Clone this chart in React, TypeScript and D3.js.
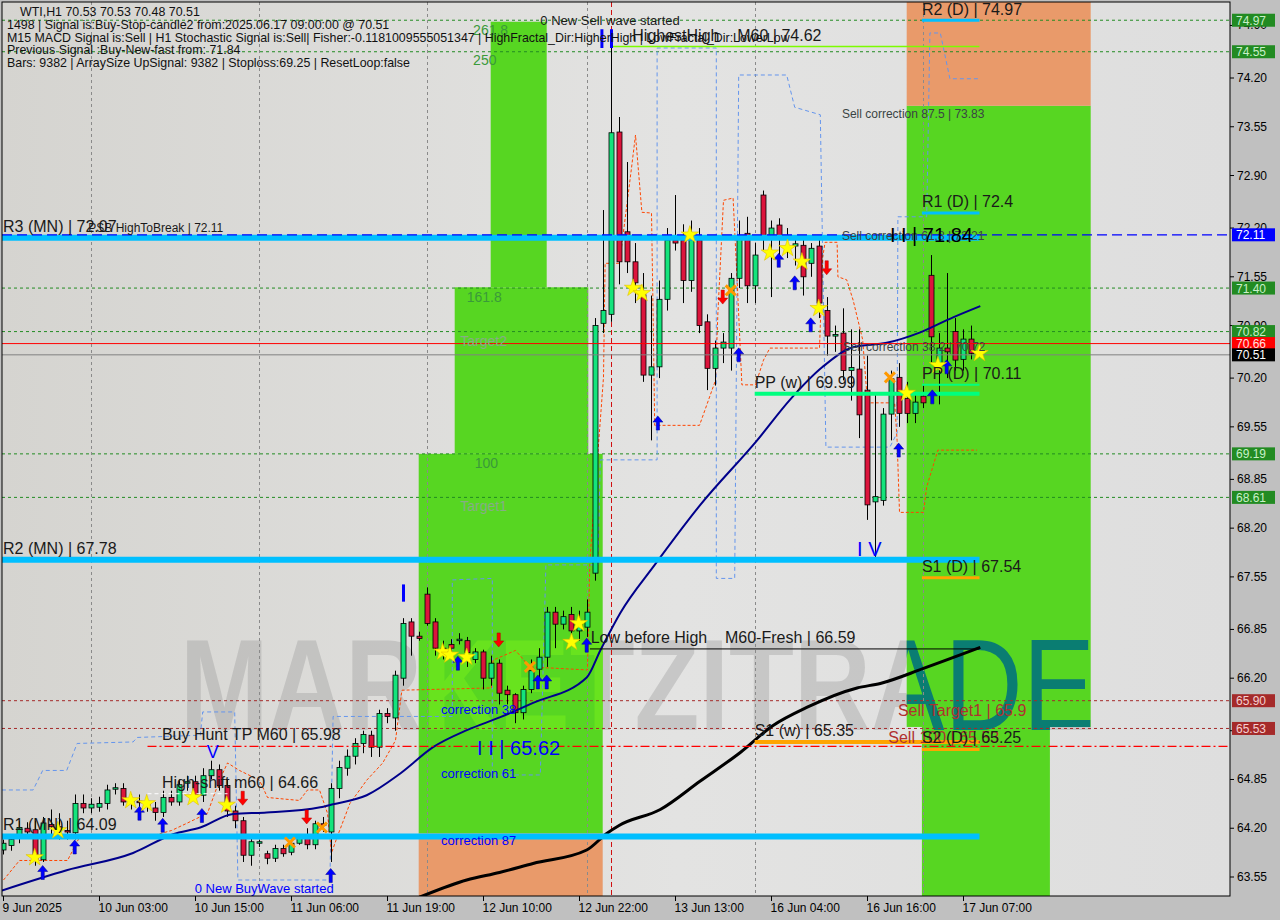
import React from "react";
import * as d3 from "d3";

// ---- price data (WTI H1) ----
const opens = [63.91,63.97,64.11,64.2,64.18,63.78,64.25,64.22,64.17,64.14,64.53,64.47,64.48,64.53,64.72,64.73,64.55,64.56,64.54,64.47,64.41,64.61,64.55,64.8,64.82,64.64,64.9,64.98,64.77,64.43,64.3,63.84,64.0,63.86,63.8,63.93,63.88,64.0,64.07,63.98,64.26,64.15,64.73,65.0,65.16,65.33,65.44,65.28,65.73,65.67,66.2,66.95,66.76,67.32,66.95,66.6,66.65,66.7,66.7,66.45,66.55,66.2,66.4,66.04,65.98,65.74,66.05,66.32,66.48,67.08,66.92,67.05,66.83,66.88,67.6,70.93,71.05,73.48,72.15,71.75,71.31,70.24,70.35,71.25,72.04,72.04,71.5,72.04,70.95,70.33,70.6,70.6,71.53,72.13,71.43,72.64,72.1,72.24,72.1,71.96,71.97,71.73,71.96,71.1,70.76,70.8,70.3,70.32,70.04,68.55,68.57,69.72,70.21,69.93,69.73,69.96,71.57,70.37,70.6,70.82,70.45,70.72,70.53];
const highs = [64.05,64.1,64.3,64.28,64.3,64.35,64.45,64.4,64.3,64.65,64.65,64.6,64.62,64.78,64.8,64.8,64.65,64.65,64.6,64.55,64.7,64.7,64.85,64.9,64.9,65.0,65.1,65.05,64.85,64.5,64.35,64.1,64.05,63.9,63.98,63.98,64.05,64.1,64.2,64.3,64.35,64.8,65.1,65.25,65.4,65.5,65.5,65.78,65.8,66.3,67.0,67.0,66.82,67.41,67.0,66.7,66.72,66.8,66.75,66.6,66.58,66.5,66.45,66.1,66.0,66.1,66.45,66.6,67.15,67.15,67.1,67.15,67.1,67.25,71.0,72.44,74.62,73.68,73.08,72.0,71.6,71.3,71.5,72.2,72.64,72.25,72.3,72.2,71.05,70.7,70.8,71.6,72.3,72.35,72.0,72.7,72.3,72.33,72.2,72.1,72.05,72.0,72.1,71.28,70.9,71.13,70.85,70.85,70.5,70.0,69.8,70.3,70.4,70.15,70.0,70.1,71.84,70.8,71.6,71.0,70.85,70.9,70.53];
const lows = [63.85,63.9,64.0,64.08,63.7,63.75,64.1,64.05,64.05,64.05,64.4,64.4,64.42,64.45,64.65,64.5,64.45,64.45,64.42,64.3,64.35,64.5,64.5,64.7,64.58,64.55,64.85,64.7,64.35,64.2,63.75,63.7,63.95,63.72,63.75,63.82,63.84,63.98,63.92,63.92,64.15,63.75,64.6,64.9,65.05,65.2,65.15,65.15,65.6,65.5,66.1,66.5,66.7,66.9,66.5,66.45,66.45,66.65,66.35,66.4,66.05,66.1,65.85,65.85,65.6,65.65,66.0,66.2,66.35,66.6,66.85,66.75,66.7,66.75,67.5,70.8,70.95,71.45,71.6,71.2,70.15,69.37,70.2,71.1,71.9,71.2,71.35,70.8,70.04,70.1,70.4,70.3,71.4,71.2,71.2,71.9,71.28,71.75,71.8,71.7,71.3,71.55,71.0,70.5,70.55,70.17,69.9,69.4,68.31,67.75,68.5,69.37,69.55,69.6,69.6,69.8,70.41,69.85,70.2,70.3,70.3,70.45,70.48];
const closes = [64.0,64.05,64.21,64.15,63.78,64.27,64.22,64.2,64.15,64.53,64.47,64.52,64.53,64.71,64.74,64.55,64.58,64.54,64.5,64.41,64.61,64.55,64.78,64.82,64.64,64.9,64.98,64.77,64.43,64.3,63.84,64.02,64.02,63.8,63.93,63.86,64.0,64.07,63.98,64.26,64.24,64.73,65.01,65.16,65.33,65.45,65.28,65.73,65.69,66.24,66.93,66.76,66.73,66.93,66.6,66.55,66.6,66.72,66.54,66.55,66.2,66.4,66.0,65.98,65.74,66.05,66.3,66.48,67.08,66.92,67.02,66.83,66.95,67.08,70.9,71.1,73.47,71.75,71.75,71.47,70.24,70.35,71.25,72.04,72.0,71.5,72.04,70.9,70.33,70.6,70.68,71.53,72.1,71.43,71.84,72.1,72.2,72.1,72.05,71.99,71.55,71.93,71.2,70.76,70.78,70.3,70.34,69.71,68.51,68.62,69.72,70.19,69.73,69.73,69.88,69.87,70.75,70.6,70.55,70.44,70.72,70.53,70.51];

// time axis
const timeTickBars = [0, 12, 24, 36, 48, 60, 72, 84, 96, 108, 120];
const timeTickLabels = ["9 Jun 2025", "10 Jun 03:00", "10 Jun 15:00", "11 Jun 06:00", "11 Jun 19:00", "12 Jun 10:00", "12 Jun 22:00", "13 Jun 13:00", "16 Jun 04:00", "16 Jun 16:00", "17 Jun 07:00"];
const daySeparatorBars = [11, 32, 53, 73, 94, 115];
const priceTicks = ["74.90", "74.20", "73.55", "72.90", "72.20", "71.55", "70.90", "70.20", "69.55", "68.85", "68.20", "67.55", "66.85", "66.20", "65.50", "64.85", "64.20", "63.55"];

// horizontal levels
const greenLevels = [74.97, 74.55, 71.40, 70.82, 69.19, 68.61];
const brownLevels = [65.90, 65.53];
const monthlyPivots = [72.07, 67.78, 64.09];
const psbHigh = 72.11;
const askLine = 70.66;
const bidLine = 70.51;
const buyHuntLine = 65.29;

// [bar0, bar1, priceLow, priceHigh, kind]
const zones: [number, number, number, number, string][] = [
  [51.9, 74.9, 64.13, 69.19, "green"],
  [51.9, 74.9, 63.0, 64.13, "orange"],
  [56.4, 73.1, 69.19, 71.41, "green"],
  [60.9, 67.9, 71.41, 74.95, "green"],
  [112.9, 135.9, 65.55, 73.83, "green"],
  [112.9, 135.9, 73.83, 75.5, "orange"],
  [114.8, 130.8, 63.0, 65.55, "green"],
];

// short pivot segments: [bar0, bar1, price, color, width]
const pivotSegs: [number, number, number, string, number][] = [
  [114.8, 122, 74.97, "#00bfff", 3],
  [114.8, 122, 72.40, "#00bfff", 3],
  [114.8, 122, 70.11, "#00ff7f", 2],
  [114.8, 122, 67.54, "#ffa500", 3],
  [114.8, 122, 65.25, "#ffa500", 3],
  [93.9, 122, 69.99, "#00ff7f", 4],
  [93.9, 122, 65.35, "#ffa500", 4],
  [75.9, 122, 74.62, "#7cfc00", 1.5],
  [73.3, 122, 66.59, "#000000", 1],
];

// indicator readings [bar, price]
const upperBand = [[-0.2,64.71],[3.7,64.71],[4.9,64.97],[7.9,64.97],[9.2,65.33],[16.2,65.35],[16.7,65.41],[24.6,65.44],[24.9,65.75],[28.9,65.75],[29.3,63.51],[40.8,63.51],[41.2,65.69],[56.1,65.69],[56.1,67.51],[61.1,67.53],[61.1,64.91],[67.1,64.91],[67.8,67.71],[74.3,67.71],[74.6,69.11],[81.7,69.11],[81.7,74.6],[89.1,74.6],[89.1,67.53],[91.4,67.53],[91.9,74.24],[97.9,74.24],[98.9,73.81],[102.1,73.71],[102.8,69.28],[110.8,69.28],[111.7,69.47],[111.8,72.35],[115.4,72.35],[115.8,74.8],[117.1,74.8],[118.3,74.19],[121.8,74.19]];
const lowerBand = [[0,63.51],[2,63.77],[8,63.77],[9.5,64.08],[18,64.08],[21,64.17],[23,64.27],[25.5,64.4],[27,64.84],[28,65.07],[29.5,64.97],[32,64.84],[33,64.61],[37,64.57],[38,64.71],[39.5,64.71],[40.5,64.4],[41,63.87],[41.7,64.08],[43.3,64.53],[45.4,64.84],[47.4,65.07],[49,65.37],[49.8,66.04],[61,66.07],[61.2,66.44],[64,66.57],[65.8,66.35],[73,66.31],[73.3,67.77],[75,70.21],[75.2,71.73],[77,71.73],[78.5,73.0],[79,73.44],[79.8,72.41],[81,72.4],[81.2,71.07],[81.4,69.57],[87,69.57],[89,70.17],[89.3,71.07],[90,72.57],[91.2,72.6],[91.7,71.51],[92.3,70.11],[94,70.11],[95,70.44],[95.8,70.6],[102,70.6],[102.4,71.81],[102.7,72.01],[104.2,72.01],[104.3,71.55],[105.4,71.51],[106.2,71.24],[107.4,70.71],[108,69.87],[111.4,69.87],[111.7,69.37],[112,68.41],[115,68.41],[115.4,68.75],[116.8,69.24],[121.7,69.24]];
const fastMA = [[-0.2,63.37],[7.9,63.64],[16.2,63.87],[21.2,64.12],[24.6,64.21],[28.7,64.39],[32.9,64.41],[39.6,64.48],[41.2,64.52],[45.4,64.64],[49.6,64.93],[53.7,65.28],[58,65.51],[62.1,65.68],[66.2,65.87],[72.9,66.21],[74.6,66.57],[77.1,67.07],[81.4,67.71],[87.1,68.51],[94.2,69.37],[98.3,69.91],[102.4,70.35],[106.2,70.61],[110.4,70.67],[114.6,70.81],[118.7,71.01],[122.1,71.16]];
const slowMA = [[52,63.28],[57.9,63.51],[62,63.61],[66.2,63.73],[72.9,63.91],[75.4,64.13],[77,64.24],[82.1,64.45],[87.1,64.83],[92.1,65.21],[96.2,65.57],[100.4,65.81],[106.7,66.07],[109.6,66.13],[115,66.33],[122.1,66.61]];

// signal markers [bar, price]
const stars = [[3.9,63.81],[6.8,64.17],[15.9,64.57],[17.9,64.53],[23.7,64.61],[27.9,64.51],[54.9,66.55],[55.8,66.51],[57.9,66.48],[71,66.68],[71.9,66.93],[78.7,71.4],[79.8,71.33],[85.8,72.11],[95.8,71.87],[98,71.93],[99.8,71.75],[101.9,71.13],[112.9,70.0],[116.8,70.37],[122,70.53]];
const upArrows = [[4.9,63.61],[8.9,63.95],[17,64.4],[19.9,64.24],[24.8,64.37],[40.9,63.57],[56.8,66.4],[66.8,66.15],[67.9,66.15],[72.9,66.64],[81.8,69.6],[91.9,70.51],[96.9,71.77],[98.9,71.47],[100.9,70.91],[111.9,69.24],[116.1,69.95],[117.9,70.35]];
const downArrows = [[29.9,64.6],[37.9,64.35],[61.9,66.71],[89.9,71.28],[102.9,71.67]];
const crosses = [[35.8,64.01],[39.8,64.21],[65.8,66.35],[90.9,71.37],[110.8,70.21]];

// right-side price tags [price, background, text]
const priceTags: [number, string, string][] = [
  [74.97, "#228b22", "#c8f0c8"], [74.55, "#228b22", "#c8f0c8"], [72.11, "#0000ff", "#ffffff"],
  [71.40, "#228b22", "#c8f0c8"], [70.82, "#228b22", "#c8f0c8"], [70.66, "#ff0000", "#ffe0e0"],
  [70.51, "#000000", "#ffffff"], [69.19, "#228b22", "#c8f0c8"], [68.61, "#228b22", "#c8f0c8"],
  [65.90, "#a52a2a", "#f5d0d0"], [65.53, "#a52a2a", "#f5d0d0"],
];

const infoLines = [
  "1498 | Signal is:Buy-Stop-candle2 from:2025.06.17 09:00:00 @ 70.51",
  "M15 MACD Signal is:Sell | H1 Stochastic Signal is:Sell| Fisher:-0.1181009555051347 | HighFractal_Dir:HigherHigh | LowFractal_Dir:LowerLow",
  "Previous Signal :Buy-New-fast from: 71.84",
  "Bars: 9382 | ArraySize UpSignal: 9382 | Stoploss:69.25 | ResetLoop:false",
];

// [text, bar, price, size, color]
const labels: [string, number, number, number, string][] = [
  ["R3 (MN) | 72.07", -0.06, 72.15, 16, "#1a1a1a"],
  ["PSB HighToBreak | 72.11", 10.6, 72.15, 12, "#1a1a1a"],
  ["R2 (MN) | 67.78", -0.06, 67.86, 16, "#1a1a1a"],
  ["R1 (MN) | 64.09", -0.06, 64.18, 16, "#1a1a1a"],
  ["Buy Hunt TP M60 | 65.98", 19.8, 65.38, 16, "#1a1a1a"],
  ["High-shift m60 | 64.66", 19.8, 64.74, 16, "#1a1a1a"],
  ["V", 25.4, 65.14, 18, "#0000ff"],
  ["0 New BuyWave started", 23.9, 63.34, 13, "#0000ff"],
  ["correction 38", 54.7, 65.72, 13, "#0000ff"],
  ["correction 61", 54.7, 64.87, 13, "#0000ff"],
  ["correction 87", 54.7, 63.98, 13, "#0000ff"],
  ["I I | 65.62", 59.2, 65.18, 20, "#0000ff"],
  ["Low before High    M60-Fresh | 66.59", 73.4, 66.67, 16, "#1a1a1a"],
  ["261.8", 58.7, 74.77, 14, "#3a9a3a"],
  ["250", 58.7, 74.37, 14, "#3a9a3a"],
  ["161.8", 57.9, 71.21, 14, "#3a9a3a"],
  ["Target2", 57.1, 70.63, 14, "#86ad86"],
  ["100", 58.9, 69.0, 14, "#3a9a3a"],
  ["Target1", 57.1, 68.43, 14, "#86ad86"],
  ["0 New Sell wave started", 67.1, 74.91, 13, "#1a1a1a"],
  ["HighestHigh    M60 | 74.62", 78.6, 74.69, 16, "#1a1a1a"],
  ["Sell correction 87.5 | 73.83", 104.8, 73.67, 12, "#3a4444"],
  ["Sell correction 61.8 | 72.21", 104.8, 72.04, 12, "#3a4444"],
  ["I I | 71.84", 110.8, 72.01, 20, "#000000"],
  ["R2 (D) | 74.97", 114.8, 75.04, 16, "#1a1a1a"],
  ["R1 (D) | 72.4", 114.8, 72.48, 16, "#1a1a1a"],
  ["PP (D) | 70.11", 114.8, 70.19, 16, "#1a1a1a"],
  ["S1 (D) | 67.54", 114.8, 67.62, 16, "#1a1a1a"],
  ["PP (w) | 69.99", 93.9, 70.07, 16, "#1a1a1a"],
  ["S1 (w) | 65.35", 93.9, 65.43, 16, "#1a1a1a"],
  ["Sell correction 38.2 | 70.72", 104.9, 70.56, 12, "#3a4444"],
  ["Sell Target1 | 65.9", 111.8, 65.7, 16, "#b03030"],
  ["Sell 100 | 65.53", 110.6, 65.34, 16, "#b03030"],
  ["S2 (D) | 65.25", 114.8, 65.34, 16, "#1a1a1a"],
  ["I V", 106.7, 67.83, 20, "#0000ff"],
];

const W = 1280;
const H = 920;
const PL = 2, PR = 1230, PT = 2, PB = 896;
const FONT = "'Liberation Sans', Arial, sans-serif";

const xs = d3.scaleLinear().domain([0, 122]).range([3.5, 979.5]);
const ys = d3.scaleLinear().domain([63.55, 74.2]).range([877, 78]);

const line = d3
  .line<number[]>()
  .x((d) => xs(d[0]))
  .y((d) => ys(d[1]));
const smooth = d3
  .line<number[]>()
  .x((d) => xs(d[0]))
  .y((d) => ys(d[1]))
  .curve(d3.curveMonotoneX);

const zoneFill: Record<string, string> = { green: "#57d622", orange: "#e99a6a" };

const zoneRect = (z: [number, number, number, number, string], i: number, fill?: string) => (
  <rect
    key={i}
    x={xs(z[0])}
    y={ys(z[3])}
    width={xs(z[1]) - xs(z[0])}
    height={ys(z[2]) - ys(z[3])}
    fill={fill ?? zoneFill[z[4]]}
  />
);

const upPath = "M0,-7L5,-1L1.6,-1L1.6,7L-1.6,7L-1.6,-1L-5,-1Z";
const starPath = d3.symbol(d3.symbolStar).size(95)()!;

const App: React.FC = () => {
  const wmText = (fill: string, opacity = 1, weight = "normal") => (
    <text
      x={180}
      y={730}
      fontFamily={FONT}
      fontSize={130}
      fontWeight={weight}
      fill={fill}
      opacity={opacity}
      textLength={915}
      lengthAdjust="spacingAndGlyphs"
    >
      MARKETZITRADE
    </text>
  );

  return (
    <>
      <style>{`body{margin:0}`}</style>
      <svg width={W} height={H} style={{ display: "block" }} fontFamily={FONT}>
        <defs>
          <linearGradient id="bg" x1="0" x2="1" y1="0" y2="0">
            <stop offset="0" stopColor="#d5d4d0" />
            <stop offset="0.55" stopColor="#e3e3e2" />
            <stop offset="1" stopColor="#dedede" />
          </linearGradient>
          <clipPath id="plot">
            <rect x={PL} y={PT} width={PR - PL} height={PB - PT} />
          </clipPath>
          <clipPath id="zoneLeft">{[0, 2, 3].map((i) => zoneRect(zones[i], i))}</clipPath>
          <clipPath id="zoneRight">{[4, 6].map((i) => zoneRect(zones[i], i))}</clipPath>
          <mask id="outside">
            <rect x={0} y={0} width={W} height={H} fill="#fff" />
            {zones.map((z, i) => zoneRect(z, i, "#000"))}
          </mask>
        </defs>

        <rect x={0} y={0} width={W} height={H} fill="#c0c0c0" />
        <rect x={PL} y={PT} width={PR - PL} height={PB - PT} fill="url(#bg)" />

        <g clipPath="url(#plot)">
          {/* target zones */}
          {zones.map((z, i) => zoneRect(z, i))}

          {/* watermark */}
          <g mask="url(#outside)">{wmText("#9c9c9c", 0.38, "bold")}</g>
          <g clipPath="url(#zoneLeft)">{wmText("#68e31e", 1, "bold")}</g>
          <g clipPath="url(#zoneRight)">{wmText("#0a7d72", 1)}</g>

          {/* day separators */}
          {daySeparatorBars.map((b) => (
            <line key={b} x1={xs(b)} x2={xs(b)} y1={PT} y2={PB} stroke="#8a8a8a" strokeDasharray="3,3" />
          ))}
          <line x1={xs(76)} x2={xs(76)} y1={PT} y2={PB} stroke="#d01010" strokeDasharray="5,3" />

          {/* levels */}
          {greenLevels.map((p) => (
            <line key={p} x1={PL} x2={PR} y1={ys(p)} y2={ys(p)} stroke="#228b22" strokeDasharray="3,3" />
          ))}
          {brownLevels.map((p) => (
            <line key={p} x1={PL} x2={PR} y1={ys(p)} y2={ys(p)} stroke="#a52a2a" strokeDasharray="3,3" />
          ))}

          {/* bands */}
          <path d={line(upperBand as number[][])!} fill="none" stroke="#6495ed" strokeDasharray="4,3" />
          <path d={line(lowerBand as number[][])!} fill="none" stroke="#ff4500" strokeDasharray="3,2" />

          {/* candles */}
          {closes.map((c, i) => {
            const o = opens[i];
            const x = xs(i);
            const top = ys(Math.max(o, c));
            const h = Math.max(1, Math.abs(ys(o) - ys(c)));
            return (
              <g key={i}>
                <line x1={x} x2={x} y1={ys(highs[i])} y2={ys(lows[i])} stroke="#000" />
                <rect
                  x={x - 2.5}
                  y={top}
                  width={5}
                  height={h}
                  fill={c >= o ? "#14e47c" : "#dc143c"}
                  stroke="#000"
                  strokeWidth={0.8}
                />
              </g>
            );
          })}

          {/* moving averages */}
          <path d={smooth(slowMA as number[][])!} fill="none" stroke="#000" strokeWidth={3} />
          <path d={smooth(fastMA as number[][])!} fill="none" stroke="#00008b" strokeWidth={2} />

          {/* monthly pivots */}
          {monthlyPivots.map((p) => (
            <line key={p} x1={PL} x2={xs(122)} y1={ys(p)} y2={ys(p)} stroke="#00bfff" strokeWidth={6} />
          ))}
          <line x1={PL} x2={PR} y1={ys(psbHigh)} y2={ys(psbHigh)} stroke="#0000ff" strokeWidth={1.2} strokeDasharray="10,5" />
          {pivotSegs.map((s, i) => (
            <line key={i} x1={xs(s[0])} x2={xs(s[1])} y1={ys(s[2])} y2={ys(s[2])} stroke={s[3]} strokeWidth={s[4]} />
          ))}
          <line x1={xs(18)} x2={xs(28)} y1={ys(64.66)} y2={ys(64.66)} stroke="#ffffff" strokeDasharray="4,3" />
          <line x1={xs(18)} x2={PR} y1={ys(buyHuntLine)} y2={ys(buyHuntLine)} stroke="#ff0000" strokeWidth={1.3} strokeDasharray="9,3,2,3" />
          <line x1={PL} x2={PR} y1={ys(askLine)} y2={ys(askLine)} stroke="#ff0000" />
          <line x1={PL} x2={PR} y1={ys(bidLine)} y2={ys(bidLine)} stroke="#808080" />

          {/* wave marks */}
          {[74.8, 76].map((b) => (
            <line key={b} x1={xs(b)} x2={xs(b)} y1={ys(74.85)} y2={ys(74.6)} stroke="#0000ff" strokeWidth={3} />
          ))}
          <line x1={xs(50)} x2={xs(50)} y1={ys(67.45)} y2={ys(67.22)} stroke="#0000ff" strokeWidth={3} />

          {/* signals */}
          {crosses.map((d, i) => (
            <path
              key={i}
              transform={`translate(${xs(d[0])},${ys(d[1])})`}
              d="M-5,-5L5,5M5,-5L-5,5"
              stroke="#ff9900"
              strokeWidth={3}
            />
          ))}
          {upArrows.map((d, i) => (
            <path key={i} transform={`translate(${xs(d[0])},${ys(d[1])})`} d={upPath} fill="#0000ff" stroke="#00008b" strokeWidth={0.5} />
          ))}
          {downArrows.map((d, i) => (
            <path key={i} transform={`translate(${xs(d[0])},${ys(d[1])}) rotate(180)`} d={upPath} fill="#ff0000" stroke="#b00000" strokeWidth={0.5} />
          ))}
          {stars.map((d, i) => (
            <path key={i} transform={`translate(${xs(d[0])},${ys(d[1])})`} d={starPath} fill="#ffff00" stroke="#e0c000" strokeWidth={0.6} />
          ))}

          {/* object labels */}
          {labels.map(([t, b, p, s, c], i) => (
            <text key={i} x={xs(b)} y={ys(p)} fontSize={s} fill={c} style={{ whiteSpace: "pre" }}>
              {t}
            </text>
          ))}

          {/* header */}
          <text x={20} y={16} fontSize={12.4} fill="#111">WTI,H1  70.53 70.53 70.48 70.51</text>
          {infoLines.map((t, i) => (
            <text key={i} x={7} y={29 + i * 12.5} fontSize={12.4} fill="#111">
              {t}
            </text>
          ))}
        </g>

        {/* frame and axes */}
        <rect x={PL} y={PT} width={PR - PL} height={PB - PT} fill="none" stroke="#000" />
        {priceTicks.map((t) => (
          <g key={t}>
            <line x1={PR} x2={PR + 4} y1={ys(+t)} y2={ys(+t)} stroke="#000" />
            <text x={PR + 7} y={ys(+t) + 4} fontSize={12} fill="#000">
              {t}
            </text>
          </g>
        ))}
        {priceTags.map(([p, bg, fg]) => (
          <g key={p}>
            <rect x={PR + 2} y={ys(p) - 6.5} width={43} height={13} fill={bg} />
            <text x={PR + 6} y={ys(p) + 4.5} fontSize={12} fill={fg}>
              {p.toFixed(2)}
            </text>
          </g>
        ))}
        {timeTickBars.map((b, i) => (
          <g key={b}>
            <line x1={xs(b)} x2={xs(b)} y1={PB} y2={PB + 5} stroke="#000" />
            <text x={xs(b) - 1} y={PB + 16} fontSize={12} fill="#000">
              {timeTickLabels[i]}
            </text>
          </g>
        ))}
      </svg>
    </>
  );
};

export default App;
